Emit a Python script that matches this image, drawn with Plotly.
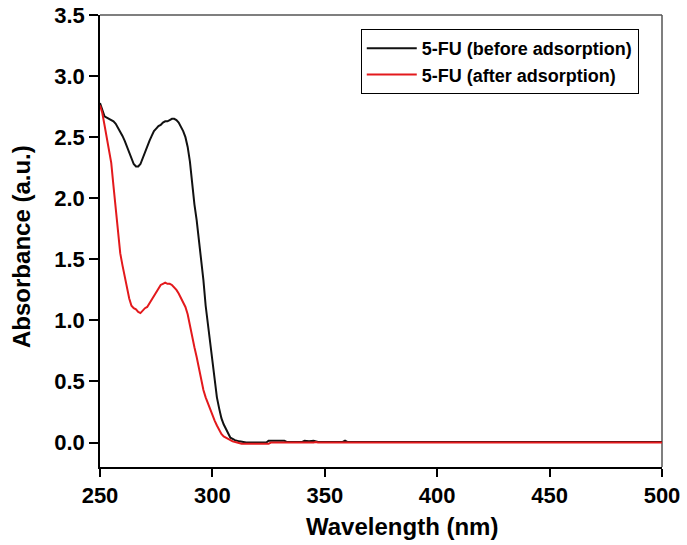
import plotly.graph_objects as go

# Wavelength (nm) and absorbance readings
wl_before = [250, 251, 252, 253, 254, 255, 256, 257, 258, 259, 260, 261, 262, 263, 264, 265, 266, 267,
             268, 269, 270, 271, 272, 273, 274, 275, 276, 277, 278, 279, 280, 281, 282, 283, 284, 285,
             286, 287, 288, 289, 290, 291, 292, 293, 294, 295, 296, 297, 298, 299, 300, 301, 302, 303,
             304, 305, 306, 307, 308, 309, 310, 312, 315, 320, 324, 325, 332, 333, 340, 341, 343, 345,
             347, 350, 358, 359, 360, 500]
abs_before = [2.78, 2.72, 2.67, 2.66, 2.65, 2.64, 2.63, 2.61, 2.58, 2.55, 2.51, 2.47, 2.42, 2.37, 2.32,
              2.28, 2.26, 2.26, 2.28, 2.33, 2.38, 2.43, 2.47, 2.51, 2.55, 2.57, 2.59, 2.60, 2.62, 2.63,
              2.63, 2.64, 2.65, 2.65, 2.64, 2.62, 2.59, 2.55, 2.50, 2.42, 2.30, 2.10, 1.95, 1.82, 1.66,
              1.50, 1.33, 1.12, 0.97, 0.85, 0.68, 0.50, 0.37, 0.28, 0.20, 0.15, 0.11, 0.07, 0.04, 0.03,
              0.02, 0.01, 0.00, 0.00, 0.00, 0.015, 0.015, 0.005, 0.005, 0.015, 0.01, 0.015, 0.005, 0.005,
              0.005, 0.015, 0.005, 0.005]

wl_after = [250, 251, 252, 253, 254, 255, 256, 257, 258, 259, 260, 261, 262, 263, 264, 265, 266, 267,
            268, 269, 270, 271, 272, 273, 274, 275, 276, 277, 278, 279, 280, 281, 282, 283, 284, 285,
            286, 287, 288, 289, 290, 291, 292, 293, 294, 295, 296, 297, 298, 299, 300, 301, 302, 303,
            304, 305, 306, 307, 308, 309, 311, 313, 325, 326, 345, 346, 347, 500]
abs_after = [2.76, 2.70, 2.60, 2.50, 2.40, 2.29, 2.10, 1.90, 1.70, 1.55, 1.45, 1.35, 1.25, 1.18, 1.12,
             1.10, 1.09, 1.07, 1.06, 1.08, 1.10, 1.11, 1.14, 1.17, 1.20, 1.24, 1.26, 1.29, 1.30, 1.31,
             1.30, 1.30, 1.29, 1.27, 1.25, 1.22, 1.18, 1.14, 1.11, 1.05, 0.95, 0.86, 0.78, 0.70, 0.60,
             0.50, 0.43, 0.37, 0.32, 0.27, 0.22, 0.18, 0.14, 0.10, 0.07, 0.05, 0.04, 0.03, 0.02, 0.01,
             0.00, -0.01, -0.01, 0.00, 0.00, 0.005, 0.00, 0.00]

x_ticks = [250, 300, 350, 400, 450, 500]
y_ticks = [0.0, 0.5, 1.0, 1.5, 2.0, 2.5, 3.0, 3.5]
x_title = "Wavelength (nm)"
y_title = "Absorbance (a.u.)"

FONT = "Liberation Sans, Arial, sans-serif"

fig = go.Figure()
fig.add_trace(go.Scatter(x=wl_before, y=abs_before, mode="lines", name="5-FU (before adsorption)",
                         line=dict(color="#111111", width=2)))
fig.add_trace(go.Scatter(x=wl_after, y=abs_after, mode="lines", name="5-FU (after adsorption)",
                         line=dict(color="#e3191c", width=2)))

# gray top and right frame lines
fig.add_shape(type="line", xref="paper", yref="paper", x0=0, x1=1, y0=1, y1=1,
              line=dict(color="#555555", width=1.5), layer="below")
fig.add_shape(type="line", xref="paper", yref="paper", x0=1, x1=1, y0=0, y1=1,
              line=dict(color="#555555", width=1.5), layer="below")

# axis titles as annotations for precise placement
fig.add_annotation(text=x_title, xref="paper", yref="paper", x=0.537, y=-0.1327,
                   xanchor="center", yanchor="middle", showarrow=False,
                   font=dict(family=FONT, size=24, color="black", weight="bold"))
fig.add_annotation(text=y_title, xref="paper", yref="paper", x=-0.1388, y=0.489,
                   xanchor="center", yanchor="middle", showarrow=False, textangle=-90,
                   font=dict(family=FONT, size=24, color="black", weight="bold"))

fig.update_layout(
    width=687, height=545,
    margin=dict(l=100, r=25, t=15, b=78, autoexpand=False),
    plot_bgcolor="white", paper_bgcolor="white",
    font=dict(family=FONT, color="black"),
    showlegend=True,
    legend=dict(x=0.464, y=0.969, xanchor="left", yanchor="top",
                bgcolor="white", bordercolor="black", borderwidth=1,
                font=dict(family=FONT, size=18, color="black", weight="bold"),
                itemwidth=50, tracegroupgap=0),
    xaxis=dict(range=[250, 500], tickvals=x_ticks, ticktext=[str(v) for v in x_ticks],
               automargin=False,
               showgrid=False, zeroline=False, showline=True, linecolor="black", linewidth=1.5,
               ticks="outside", ticklen=8, tickwidth=1.5, tickcolor="black",
               tickfont=dict(family=FONT, size=22, color="black", weight="bold")),
    yaxis=dict(range=[-0.2, 3.5], tickvals=y_ticks, ticktext=[f"{v:.1f}" for v in y_ticks],
               automargin=False,
               showgrid=False, zeroline=False, showline=True, linecolor="black", linewidth=1.5,
               ticks="outside", ticklen=9, tickwidth=1.5, tickcolor="black",
               tickfont=dict(family=FONT, size=22, color="black", weight="bold")),
)

fig.write_html("out.html", config={"displayModeBar": False},
               post_script="document.body.style.margin='0';")
